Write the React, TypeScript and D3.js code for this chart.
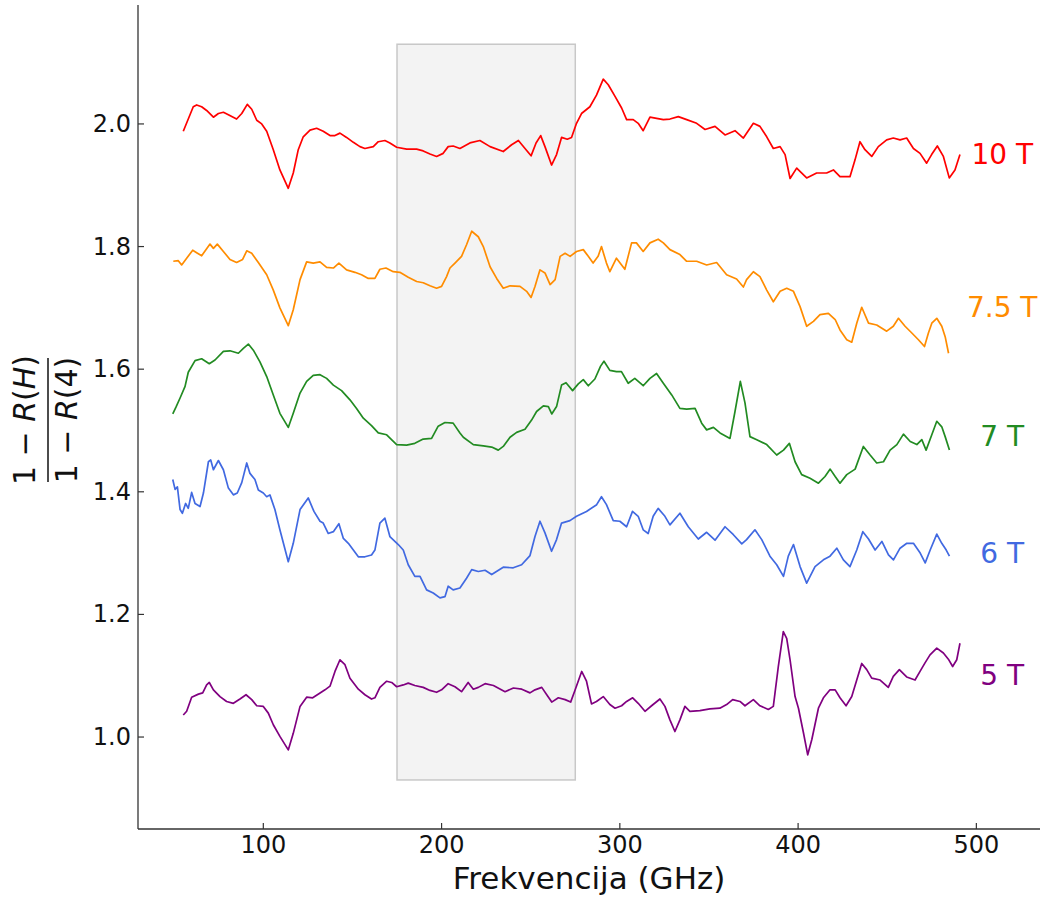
import React from 'react';
import * as d3 from 'd3';

const W = 1041;
const H = 898;

const xDomain = [29.7, 535.7];
const yDomain = [0.85, 2.194];
const xTicks = [100, 200, 300, 400, 500];
const yTicks = [1.0, 1.2, 1.4, 1.6, 1.8, 2.0];
const bandX = [175, 275];
const bandY = [0.93, 2.13];

const seriesNames = ['10 T', '7.5 T', '7 T', '6 T', '5 T'];
const seriesColors = ['#ff0000', '#ff8c00', '#228b22', '#4169e1', '#800080'];
const labelX = 514.5;
const labelY = [1.95, 1.70, 1.49, 1.30, 1.10];

const s10T: [number, number][] = [[55.1,1.988],[60.7,2.028],[62.6,2.031],[65.4,2.028],[68.2,2.022],[72.0,2.011],[74.8,2.017],[77.6,2.019],[80.4,2.015],[85.0,2.008],[87.9,2.017],[91.0,2.032],[93.5,2.024],[96.3,2.006],[99.1,2.000],[101.9,1.988],[105.6,1.958],[109.3,1.925],[114.0,1.895],[116.8,1.920],[119.6,1.958],[122.4,1.979],[126.2,1.990],[129.9,1.993],[133.6,1.988],[137.4,1.981],[140.2,1.981],[143.0,1.985],[146.7,1.978],[150.5,1.970],[154.2,1.963],[157.0,1.960],[161.7,1.963],[164.5,1.971],[168.2,1.973],[171.0,1.969],[174.8,1.962],[180.4,1.959],[186.0,1.959],[189.7,1.956],[193.5,1.951],[197.2,1.947],[200.9,1.952],[203.7,1.963],[206.5,1.964],[210.3,1.960],[215.9,1.969],[221.5,1.973],[227.2,1.963],[234.6,1.955],[239.3,1.966],[243.1,1.973],[246.8,1.960],[250.2,1.948],[253.0,1.969],[255.6,1.981],[258.0,1.963],[261.7,1.933],[264.5,1.950],[267.3,1.978],[270.5,1.975],[272.9,1.978],[275.7,2.001],[278.5,2.017],[283.2,2.028],[286.9,2.047],[290.7,2.073],[293.5,2.064],[297.3,2.045],[301.0,2.026],[303.8,2.007],[307.5,2.007],[310.3,2.001],[313.1,1.989],[316.9,2.011],[320.6,2.009],[324.4,2.007],[328.1,2.008],[332.8,2.012],[337.5,2.007],[343.1,2.001],[347.8,1.991],[353.4,1.996],[359.0,1.982],[364.6,1.989],[369.3,1.977],[374.9,2.001],[378.6,1.996],[382.4,1.979],[386.1,1.960],[389.9,1.963],[392.7,1.950],[395.5,1.911],[399.2,1.928],[404.8,1.912],[410.4,1.920],[416.0,1.920],[419.8,1.925],[423.5,1.914],[429.1,1.914],[431.9,1.941],[434.7,1.971],[437.5,1.958],[441.3,1.947],[445.0,1.963],[449.7,1.974],[453.4,1.977],[457.2,1.974],[460.9,1.977],[464.7,1.960],[468.4,1.952],[472.1,1.936],[474.9,1.950],[478.1,1.964],[481.5,1.947],[484.8,1.912],[488.0,1.925],[490.8,1.950]];

const s75T: [number, number][] = [[49.5,1.776],[52.3,1.777],[54.2,1.770],[57.0,1.781],[60.4,1.794],[62.6,1.790],[65.4,1.785],[70.1,1.804],[72.0,1.797],[74.2,1.804],[77.6,1.792],[81.3,1.779],[85.0,1.774],[88.4,1.779],[90.7,1.793],[93.5,1.789],[97.2,1.774],[101.9,1.754],[105.6,1.729],[109.3,1.700],[114.0,1.671],[116.8,1.697],[120.6,1.746],[124.3,1.775],[128.0,1.773],[131.8,1.775],[135.5,1.766],[139.3,1.765],[142.4,1.773],[146.7,1.762],[151.4,1.758],[155.1,1.754],[158.9,1.748],[162.6,1.748],[165.4,1.763],[168.8,1.765],[172.9,1.759],[176.6,1.758],[181.3,1.750],[186.0,1.743],[189.7,1.741],[193.5,1.736],[197.2,1.732],[200.0,1.735],[202.8,1.751],[204.7,1.765],[207.5,1.773],[211.2,1.784],[214.0,1.803],[216.9,1.825],[220.6,1.816],[223.4,1.800],[227.2,1.767],[230.9,1.748],[234.6,1.732],[238.4,1.736],[244.0,1.735],[247.7,1.727],[250.2,1.717],[252.4,1.735],[255.2,1.762],[258.0,1.757],[260.9,1.738],[263.7,1.746],[266.5,1.784],[269.3,1.789],[272.1,1.784],[275.7,1.792],[279.5,1.795],[282.3,1.784],[285.0,1.773],[287.8,1.784],[289.7,1.800],[292.5,1.773],[294.4,1.759],[298.1,1.781],[302.8,1.763],[306.6,1.806],[309.3,1.806],[313.1,1.792],[316.9,1.806],[321.5,1.812],[324.4,1.806],[328.1,1.795],[333.7,1.787],[337.5,1.776],[343.1,1.776],[348.7,1.770],[354.3,1.774],[359.9,1.754],[365.5,1.747],[369.3,1.734],[371.1,1.746],[374.9,1.759],[378.6,1.751],[382.4,1.729],[386.1,1.710],[389.9,1.727],[393.6,1.732],[397.4,1.727],[401.1,1.702],[404.8,1.670],[408.6,1.678],[412.3,1.689],[417.0,1.691],[420.8,1.681],[423.5,1.664],[427.3,1.648],[430.1,1.644],[432.9,1.675],[435.7,1.701],[439.5,1.675],[444.1,1.672],[449.7,1.662],[453.4,1.670],[456.3,1.683],[460.0,1.670],[463.8,1.659],[467.5,1.648],[470.9,1.637],[473.1,1.659],[475.0,1.675],[477.8,1.683],[480.6,1.670],[482.5,1.653],[484.4,1.626]];

const s7T: [number, number][] = [[49.2,1.527],[51.0,1.538],[53.3,1.553],[56.1,1.572],[57.9,1.595],[61.7,1.614],[65.4,1.617],[69.7,1.609],[72.9,1.615],[77.6,1.629],[81.3,1.630],[86.0,1.626],[88.8,1.634],[91.6,1.641],[94.4,1.631],[98.1,1.612],[101.9,1.588],[105.6,1.558],[109.3,1.528],[114.0,1.505],[116.8,1.528],[120.6,1.561],[124.3,1.580],[128.0,1.590],[131.8,1.591],[135.5,1.585],[139.3,1.574],[143.9,1.565],[148.6,1.550],[152.3,1.536],[156.1,1.520],[160.7,1.508],[164.5,1.496],[169.2,1.493],[174.8,1.477],[180.4,1.476],[185.0,1.479],[189.7,1.486],[194.4,1.487],[198.1,1.507],[201.9,1.513],[206.5,1.512],[210.3,1.496],[212.2,1.489],[217.8,1.477],[223.4,1.475],[228.1,1.473],[231.8,1.468],[234.6,1.474],[238.4,1.489],[242.1,1.497],[246.8,1.502],[250.5,1.517],[253.3,1.531],[257.1,1.540],[259.9,1.539],[261.8,1.527],[264.5,1.539],[267.3,1.574],[269.8,1.578],[273.5,1.565],[276.7,1.576],[279.5,1.583],[282.3,1.573],[286.0,1.584],[289.2,1.605],[291.1,1.613],[294.4,1.598],[298.1,1.596],[300.9,1.596],[304.7,1.577],[308.4,1.585],[313.1,1.573],[316.9,1.585],[320.6,1.593],[324.4,1.577],[329.1,1.558],[333.7,1.536],[337.5,1.535],[342.2,1.536],[345.9,1.512],[348.7,1.501],[352.5,1.505],[356.2,1.496],[361.8,1.487],[364.6,1.531],[367.6,1.580],[370.2,1.545],[373.0,1.490],[376.8,1.485],[382.4,1.477],[388.0,1.460],[391.8,1.468],[395.1,1.479],[398.3,1.449],[402.0,1.428],[406.7,1.422],[411.4,1.414],[415.1,1.425],[418.0,1.437],[420.8,1.425],[423.5,1.414],[427.3,1.428],[432.0,1.437],[436.6,1.474],[440.4,1.460],[444.1,1.447],[447.9,1.449],[451.6,1.468],[455.4,1.477],[459.1,1.494],[462.9,1.482],[466.6,1.477],[469.4,1.485],[471.8,1.468],[475.0,1.493],[477.8,1.515],[480.6,1.506],[482.5,1.490],[484.9,1.468]];

const s6T: [number, number][] = [[49.2,1.420],[50.5,1.404],[51.8,1.408],[53.3,1.371],[54.6,1.365],[56.4,1.381],[57.9,1.373],[59.8,1.399],[61.7,1.381],[64.5,1.376],[66.4,1.398],[69.2,1.449],[70.5,1.452],[72.0,1.436],[74.8,1.451],[77.6,1.436],[80.4,1.406],[83.2,1.395],[85.4,1.398],[87.9,1.415],[90.7,1.447],[92.5,1.430],[95.3,1.420],[97.2,1.403],[100.0,1.398],[101.9,1.392],[103.7,1.395],[106.5,1.371],[109.3,1.338],[114.0,1.286],[116.8,1.316],[120.6,1.371],[125.2,1.390],[128.4,1.368],[131.8,1.352],[133.6,1.349],[136.4,1.332],[139.3,1.335],[142.4,1.348],[144.9,1.324],[147.7,1.316],[150.5,1.305],[153.3,1.294],[157.0,1.294],[160.7,1.297],[162.6,1.305],[165.4,1.349],[168.2,1.357],[171.0,1.327],[175.7,1.314],[178.5,1.305],[181.3,1.281],[185.0,1.262],[187.9,1.262],[191.6,1.240],[195.3,1.235],[199.1,1.227],[201.9,1.229],[203.7,1.246],[206.5,1.240],[210.3,1.243],[214.0,1.259],[216.9,1.273],[220.6,1.270],[224.4,1.272],[228.1,1.265],[234.6,1.277],[240.2,1.276],[244.9,1.281],[249.6,1.296],[252.4,1.327],[255.2,1.352],[258.0,1.333],[261.7,1.303],[264.5,1.322],[267.3,1.349],[272.0,1.353],[275.7,1.360],[281.3,1.368],[287.0,1.379],[289.7,1.392],[292.5,1.379],[296.3,1.353],[300.0,1.352],[303.8,1.343],[307.1,1.368],[310.3,1.360],[313.1,1.338],[315.9,1.332],[318.7,1.360],[321.5,1.373],[325.3,1.360],[328.1,1.346],[333.7,1.365],[338.4,1.343],[344.0,1.323],[348.7,1.334],[353.4,1.321],[359.0,1.343],[363.7,1.330],[368.4,1.315],[371.1,1.322],[375.8,1.338],[379.6,1.322],[384.2,1.295],[388.0,1.281],[391.8,1.262],[394.5,1.295],[397.4,1.314],[401.1,1.278],[404.8,1.251],[409.5,1.278],[414.2,1.289],[417.9,1.295],[421.7,1.308],[425.4,1.289],[429.1,1.278],[432.9,1.305],[436.3,1.335],[439.5,1.323],[443.2,1.305],[447.0,1.319],[450.7,1.297],[453.5,1.289],[457.2,1.308],[461.0,1.316],[464.7,1.316],[468.5,1.300],[471.3,1.284],[474.1,1.305],[477.8,1.331],[480.6,1.316],[483.1,1.305],[484.9,1.295]];

const s5T: [number, number][] = [[55.1,1.036],[57.0,1.042],[59.8,1.065],[63.6,1.070],[66.0,1.072],[68.2,1.085],[69.7,1.089],[72.0,1.077],[75.7,1.066],[79.4,1.058],[83.2,1.055],[86.9,1.062],[90.3,1.069],[93.5,1.061],[96.3,1.051],[100.0,1.050],[102.8,1.039],[105.6,1.020],[109.3,1.001],[114.0,0.979],[116.8,1.006],[120.6,1.050],[124.3,1.065],[127.7,1.064],[131.4,1.071],[134.6,1.077],[137.4,1.083],[140.2,1.107],[143.0,1.126],[145.8,1.118],[148.6,1.096],[153.3,1.078],[157.0,1.069],[160.7,1.062],[162.6,1.064],[165.4,1.081],[169.2,1.091],[172.0,1.089],[174.8,1.082],[178.5,1.085],[181.3,1.088],[185.0,1.084],[189.7,1.081],[193.5,1.076],[197.2,1.073],[200.0,1.077],[203.7,1.087],[207.5,1.082],[211.2,1.074],[214.9,1.089],[217.8,1.078],[220.6,1.081],[224.4,1.087],[229.1,1.084],[235.6,1.074],[240.3,1.080],[245.0,1.078],[249.6,1.072],[252.4,1.077],[256.2,1.081],[259.0,1.069],[261.8,1.057],[265.5,1.064],[269.3,1.061],[272.4,1.057],[274.8,1.076],[278.6,1.107],[281.3,1.091],[284.1,1.054],[286.9,1.058],[290.7,1.066],[294.4,1.053],[297.3,1.047],[301.0,1.051],[303.8,1.058],[307.2,1.064],[310.3,1.055],[314.1,1.042],[317.8,1.051],[322.5,1.062],[325.3,1.050],[328.1,1.028],[330.9,1.009],[333.7,1.028],[336.5,1.050],[339.3,1.042],[344.9,1.043],[350.5,1.046],[356.1,1.047],[359.9,1.053],[363.3,1.061],[367.4,1.058],[370.2,1.051],[374.9,1.061],[378.6,1.051],[383.3,1.045],[386.1,1.050],[388.9,1.115],[391.7,1.172],[393.6,1.161],[395.5,1.126],[398.3,1.066],[400.2,1.047],[403.0,1.007],[405.4,0.971],[407.7,0.996],[411.4,1.047],[414.2,1.064],[417.9,1.077],[420.8,1.077],[423.5,1.064],[426.9,1.051],[430.1,1.066],[432.9,1.093],[435.7,1.120],[438.5,1.110],[441.3,1.096],[446.0,1.093],[450.6,1.081],[453.4,1.099],[456.8,1.110],[460.9,1.098],[465.6,1.093],[468.4,1.107],[471.2,1.121],[474.0,1.134],[477.8,1.145],[481.5,1.137],[484.3,1.127],[486.7,1.115],[489.0,1.126],[490.8,1.153]];

const allSeries = [s10T, s75T, s7T, s6T, s5T];

const plot = { left: 138, right: 1040, top: 5, bottom: 829 };
const FONT = '"DejaVu Sans", sans-serif';

export default function App() {
  const x = d3.scaleLinear().domain(xDomain).range([plot.left, plot.right]);
  const y = d3.scaleLinear().domain(yDomain).range([plot.bottom, plot.top]);
  const line = d3.line<[number, number]>().x((d) => x(d[0])).y((d) => y(d[1]));

  return (
    <svg width={W} height={H} style={{ position: 'absolute', left: 0, top: 0, background: '#fff' }} fontFamily={FONT}>
      <rect x={0} y={0} width={W} height={H} fill="#fff" />
      <rect
        x={x(bandX[0])}
        y={y(bandY[1])}
        width={x(bandX[1]) - x(bandX[0])}
        height={y(bandY[0]) - y(bandY[1])}
        fill="#f3f3f3"
        stroke="#c8c8c8"
        strokeWidth={1.5}
      />
      {allSeries.map((s, i) => (
        <path key={i} d={line(s) || ''} fill="none" stroke={seriesColors[i]} strokeWidth={1.7} strokeLinejoin="round" />
      ))}
      {seriesNames.map((n, i) => (
        <text key={n} x={x(labelX)} y={y(labelY[i])} fill={seriesColors[i]} fontSize={28} textAnchor="middle" dominantBaseline="central">
          {n}
        </text>
      ))}
      {/* axes */}
      <line x1={plot.left} x2={plot.left} y1={plot.top} y2={plot.bottom} stroke="#333" strokeWidth={1.3} />
      <line x1={plot.left} x2={plot.right} y1={plot.bottom} y2={plot.bottom} stroke="#333" strokeWidth={1.3} />
      {xTicks.map((t) => (
        <g key={t}>
          <line x1={x(t)} x2={x(t)} y1={plot.bottom} y2={plot.bottom - 6} stroke="#333" strokeWidth={1.2} />
          <text x={x(t)} y={853} fontSize={24} textAnchor="middle" fill="#111">{t}</text>
        </g>
      ))}
      {yTicks.map((t) => (
        <g key={t}>
          <line x1={plot.left} x2={plot.left + 6} y1={y(t)} y2={y(t)} stroke="#333" strokeWidth={1.2} />
          <text x={131} y={y(t)} fontSize={24} textAnchor="end" dominantBaseline="central" fill="#111">{t.toFixed(1)}</text>
        </g>
      ))}
      <text x={(plot.left + plot.right) / 2} y={889} fontSize={31} textAnchor="middle" fill="#111">Frekvencija (GHz)</text>
      <g transform="translate(48,420) rotate(-90)" fill="#111">
        <text x={0} y={-13} fontSize={30} textAnchor="middle">
          1 − <tspan fontStyle="italic">R</tspan>(<tspan fontStyle="italic">H</tspan>)
        </text>
        <line x1={-62} x2={62} y1={0} y2={0} stroke="#111" strokeWidth={1.5} />
        <text x={0} y={29} fontSize={30} textAnchor="middle">
          1 − <tspan fontStyle="italic">R</tspan>(4)
        </text>
      </g>
    </svg>
  );
}
